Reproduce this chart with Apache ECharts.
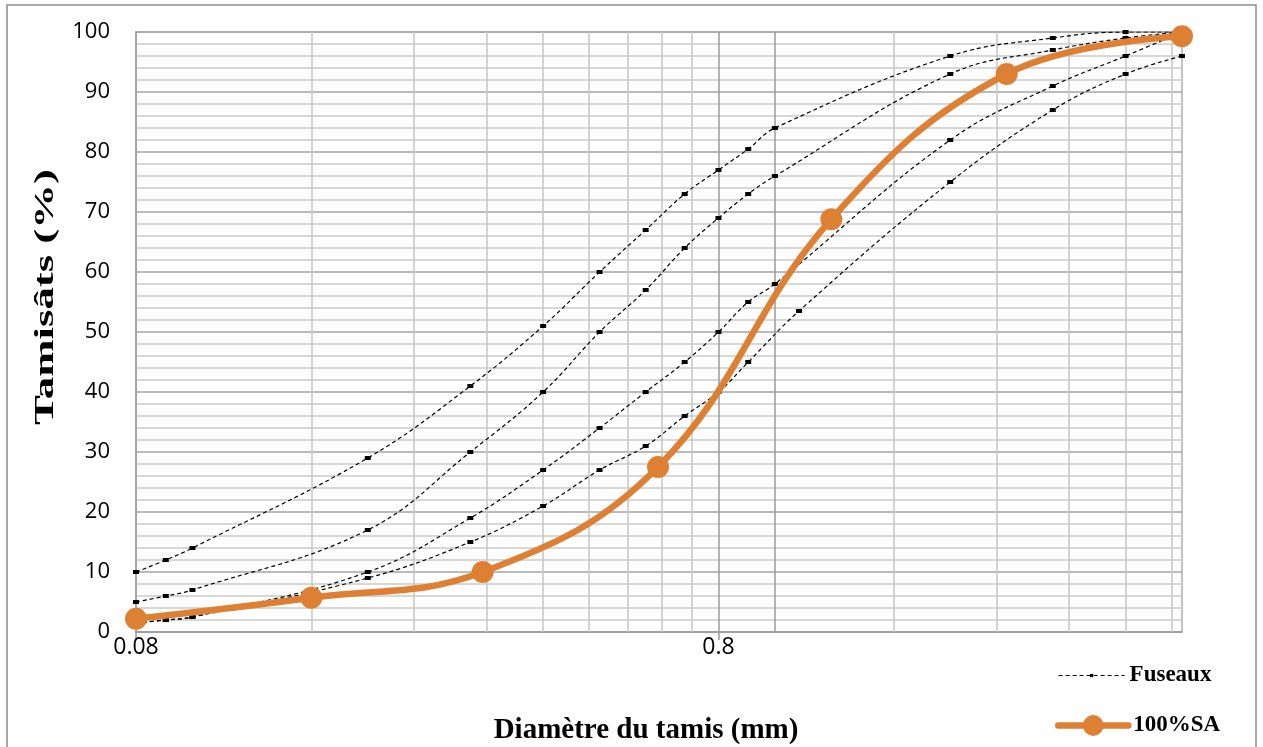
<!DOCTYPE html>
<html>
<head>
<meta charset="utf-8">
<script src="https://cdn.jsdelivr.net/npm/echarts@6/dist/echarts.min.js"></script>
<style>
  html, body { margin: 0; padding: 0; background: #fff; }
  #chart { width: 1263px; height: 747px; }
</style>
</head>
<body>
<div id="chart"></div>
<script>
// ---- data ----
const fuseauSieves = [0.08, 0.09, 0.1, 0.2, 0.3, 0.4, 0.5, 0.6, 0.7, 0.8, 0.9, 1, 2, 3, 4, 5];
const fuseauA = [10, 12, 14, 29, 41, 51, 60, 67, 73, 77, 80.5, 84, 96, 99, 100, 100];
const fuseauB = [5, 6, 7, 17, 30, 40, 50, 57, 64, 69, 73, 76, 93, 97, 99, 100];
const fuseauC = [1.5, 2, 2.5, 10, 19, 27, 34, 40, 45, 50, 55, 58, 82, 91, 96, 100];
const fuseauDSieves = [0.08, 0.09, 0.1, 0.2, 0.3, 0.4, 0.5, 0.6, 0.7, 0.8, 0.9, 1.1, 2, 3, 4, 5];
const fuseauD = [1.5, 2, 2.5, 9, 15, 21, 27, 31, 36, 40, 45, 53.5, 75, 87, 93, 96];

const saSieves = [0.08, 0.16, 0.315, 0.63, 1.25, 2.5, 5];
const saPassing = [2.2, 5.7, 10, 27.5, 68.8, 93, 99.3];

const xTickValues = [0.08, 0.8];
const xTickLabels = ['0.08', '0.8'];
const xMinorGrid = [0.16, 0.24, 0.32, 0.4, 0.48, 0.56, 0.64, 0.72, 1.6, 2.4, 3.2, 4, 4.8];
const xMajorGrid = [0.8, 1];

const seriesNames = ['Fuseaux', '100%SA'];
const xTitle = 'Diamètre du tamis (mm)';
const yTitle = 'Tamisâts (%)';

// ---- build ----
const zip = (xs, ys) => xs.map((x, i) => [x, ys[i]]);
const ORANGE = '#dd8034';

function fuseau(xs, ys) {
  return {
    name: seriesNames[0],
    type: 'line',
    data: zip(xs, ys),
    smooth: 0.4,
    symbol: 'rect',
    symbolSize: [6, 4],
    itemStyle: { color: '#000' },
    lineStyle: { color: '#000', width: 1.2, type: [4, 3] },
    z: 3
  };
}

const gridLines = [];
xMinorGrid.forEach(v => gridLines.push({ xAxis: v, lineStyle: { color: '#c6c6c6', width: 1.5, type: 'solid' } }));
xMajorGrid.forEach(v => gridLines.push({ xAxis: v, lineStyle: { color: '#9a9a9a', width: 1.5, type: 'solid' } }));

const legendText = { fontFamily: 'Liberation Serif', fontWeight: 'bold', fontSize: 23, color: '#000' };

const chart = echarts.init(document.getElementById('chart'));
chart.setOption({
  animation: false,
  backgroundColor: '#fff',
  graphic: [
    {
      type: 'rect', z: -10, silent: true,
      shape: { x: 7, y: 5, width: 1249, height: 760 },
      style: { fill: 'none', stroke: '#8c8c8c', lineWidth: 1.5 }
    },
    {
      type: 'text', silent: true,
      x: 46, y: 297,
      rotation: Math.PI / 2,
      scaleX: 1.6, scaleY: 1,
      style: {
        text: yTitle,
        font: 'bold 28px "Liberation Serif"',
        fill: '#000',
        align: 'center',
        verticalAlign: 'middle'
      }
    }
  ],
  grid: { left: 136, right: 81, top: 32, bottom: 115, outerBoundsMode: 'none', containLabel: false, show: true, borderColor: '#b0b0b0', borderWidth: 1.5 },
  legend: [
    {
      data: [seriesNames[0]],
      left: 1053,
      top: 659,
      itemWidth: 66,
      itemHeight: 4,
      itemGap: 10,
      lineStyle: { width: 'inherit' },
      textStyle: legendText
    },
    {
      data: [seriesNames[1]],
      left: 1050,
      top: 709,
      itemWidth: 70,
      itemHeight: 26,
      itemGap: 6,
      lineStyle: { width: 'inherit', cap: 'round' },
      textStyle: legendText
    }
  ],
  xAxis: {
    type: 'log',
    logBase: 10,
    min: 0.08,
    max: 5,
    name: xTitle,
    nameLocation: 'middle',
    nameGap: 84,
    nameTextStyle: { fontFamily: 'Liberation Serif', fontWeight: 'bold', fontSize: 29, color: '#000', padding: [0, 26, 0, 0] },
    axisLine: { show: true, lineStyle: { color: '#9a9a9a', width: 1.5 } },
    axisTick: { show: true, customValues: xTickValues, length: 8, lineStyle: { color: '#9a9a9a', width: 1.5 } },
    axisLabel: {
      customValues: xTickValues,
      margin: 4,
      fontFamily: 'Open Sans', fontSize: 23, color: '#000',
      formatter: v => { const i = xTickValues.findIndex(t => Math.abs(t - v) < 1e-9); return i >= 0 ? xTickLabels[i] : ''; }
    },
    splitLine: { show: false },
    minorSplitLine: { show: false }
  },
  yAxis: {
    type: 'value',
    min: 0,
    max: 100,
    interval: 10,
    axisLine: { show: true, lineStyle: { color: '#9a9a9a', width: 1.5 } },
    axisTick: { show: false },
    axisLabel: { margin: 26, fontFamily: 'Open Sans', fontSize: 22, color: '#000' },
    splitLine: { show: true, lineStyle: { color: '#a4a4a4', width: 1.5 } },
    minorTick: { show: false, splitNumber: 5 },
    minorSplitLine: { show: true, lineStyle: { color: '#cacaca', width: 1.5 } }
  },
  series: [
    fuseau(fuseauSieves, fuseauA),
    fuseau(fuseauSieves, fuseauB),
    fuseau(fuseauSieves, fuseauC),
    fuseau(fuseauDSieves, fuseauD),
    {
      name: seriesNames[1],
      type: 'line',
      data: zip(saSieves, saPassing),
      smooth: 0.4,
      symbol: 'circle',
      symbolSize: 22,
      itemStyle: { color: ORANGE },
      lineStyle: { color: ORANGE, width: 6.5, cap: 'round' },
      z: 4,
      markLine: {
        silent: true,
        symbol: 'none',
        label: { show: false },
        z: 1,
        animation: false,
        data: gridLines
      }
    }
  ]
});
</script>
</body>
</html>
